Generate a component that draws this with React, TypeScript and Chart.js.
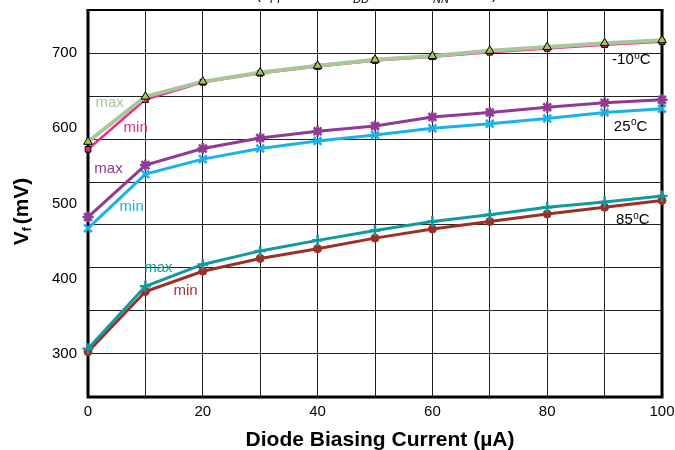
import React, { useEffect, useRef } from 'react';
import { Chart, registerables } from 'chart.js';

Chart.register(...registerables);

const FONT = "'Liberation Sans', Arial, Helvetica, sans-serif";

// Diode biasing current (µA)
const currents = [0, 10, 20, 30, 40, 50, 60, 70, 80, 90, 100];

// Forward voltage Vf (mV)
const coldMax = [582, 642, 662, 674, 683, 691, 696, 703, 708, 713, 717];
const coldMin = [572, 638, 661, 673, 682, 690, 695, 701, 706, 711, 715];
const roomMax = [482, 551, 573, 587, 596, 603, 615, 621, 628, 634, 638];
const roomMin = [467, 539, 559, 573, 583, 591, 600, 606, 613, 621, 626];
const hotMax = [307, 390, 419, 437, 451, 464, 476, 485, 495, 502, 510];
const hotMin = [303, 383, 410, 427, 440, 454, 466, 476, 486, 495, 504];

// Axes
const xTickLabels = [0, 20, 40, 60, 80, 100];
const yMin = 242.857;
const yMax = 757.143;
const yGridValues = [242.857, 300, 357.143, 414.286, 471.429, 528.571, 585.714, 642.857, 700, 757.143];
const yTickLabels = [300, 400, 500, 600, 700];

// In-plot annotations (data coordinates)
const seriesNotes = [
  { text: 'max', x: 1.3, y: 634, color: '#a8c59c' },
  { text: 'min', x: 6.2, y: 601, color: '#ec2d85' },
  { text: 'max', x: 1.1, y: 546, color: '#913a94' },
  { text: 'min', x: 5.5, y: 495, color: '#19b2ec' },
  { text: 'max', x: 9.8, y: 415, color: '#119a9d' },
  { text: 'min', x: 14.9, y: 384, color: '#9c3028' },
];
const tempNotes = [
  { value: '-10', x: 91.3, y: 691 },
  { value: '25', x: 91.6, y: 602.5 },
  { value: '85', x: 92.0, y: 478 },
];

const near = (a: number, b: number) => Math.abs(a - b) < 0.01;

const decorPlugin = {
  id: 'decor',
  beforeDatasetsDraw(chart: any) {
    const { ctx, chartArea: a } = chart;
    ctx.save();
    ctx.strokeStyle = '#000';
    ctx.lineWidth = 3;
    ctx.beginPath();
    ctx.moveTo(a.left, a.top);
    ctx.lineTo(a.left, a.bottom);
    ctx.lineTo(a.right, a.bottom);
    ctx.lineTo(a.right, a.top);
    ctx.stroke();
    ctx.lineWidth = 2.2;
    ctx.beginPath();
    ctx.moveTo(a.left - 1.5, a.top);
    ctx.lineTo(a.right + 1.5, a.top);
    ctx.stroke();
    ctx.restore();
  },
  afterDatasetsDraw(chart: any) {
    const { ctx, scales } = chart;
    const xs = scales.x;
    const ys = scales.y;
    ctx.save();
    ctx.textBaseline = 'middle';
    ctx.textAlign = 'left';
    ctx.font = `15px ${FONT}`;
    for (const n of seriesNotes) {
      ctx.fillStyle = n.color;
      ctx.fillText(n.text, xs.getPixelForValue(n.x), ys.getPixelForValue(n.y));
    }
    ctx.fillStyle = '#000';
    for (const t of tempNotes) {
      const px = xs.getPixelForValue(t.x);
      const py = ys.getPixelForValue(t.y);
      ctx.font = `15px ${FONT}`;
      ctx.fillText(t.value, px, py);
      const w = ctx.measureText(t.value).width;
      ctx.font = `10px ${FONT}`;
      ctx.fillText('o', px + w + 0.5, py - 4);
      const w2 = ctx.measureText('o').width;
      ctx.font = `15px ${FONT}`;
      ctx.fillText('C', px + w + w2 + 0.5, py);
    }
    ctx.restore();
  },
  afterDraw(chart: any) {
    const { ctx, chartArea: a } = chart;
    ctx.save();
    // Y axis title: V_f (mV)
    ctx.translate(22, (a.top + a.bottom) / 2 + 8);
    ctx.rotate(-Math.PI / 2);
    ctx.fillStyle = '#000';
    ctx.textBaseline = 'middle';
    ctx.textAlign = 'left';
    ctx.font = `bold 21px ${FONT}`;
    const parts = ['V', 'f', '(mV)'];
    const wV = ctx.measureText(parts[0]).width;
    ctx.font = `bold 12px ${FONT}`;
    const wf = ctx.measureText(parts[1]).width;
    ctx.font = `bold 21px ${FONT}`;
    const wm = ctx.measureText(parts[2]).width;
    const total = wV + wf + 3 + wm;
    let cx = -total / 2;
    ctx.fillText(parts[0], cx, 0);
    cx += wV;
    ctx.font = `bold 12px ${FONT}`;
    ctx.fillText(parts[1], cx, 6);
    cx += wf + 3;
    ctx.font = `bold 21px ${FONT}`;
    ctx.fillText(parts[2], cx, 0);
    ctx.restore();

    // X axis title
    ctx.save();
    ctx.fillStyle = '#000';
    ctx.font = `bold 21px ${FONT}`;
    ctx.textAlign = 'center';
    ctx.textBaseline = 'middle';
    ctx.fillText('Diode Biasing Current (µA)', (a.left + a.right) / 2 + 5, 440);
    ctx.restore();

    // Clipped header line (only subscripts visible)
    ctx.save();
    ctx.fillStyle = '#000';
    ctx.textBaseline = 'alphabetic';
    ctx.textAlign = 'left';
    ctx.font = `italic 11px ${FONT}`;
    ctx.fillText('PP', 270, 3);
    ctx.fillText('DD', 353, 3);
    ctx.fillText('NN', 433, 3);
    ctx.font = `15px ${FONT}`;
    ctx.fillText('(', 256, -1);
    ctx.fillText(')', 492, -1);
    ctx.restore();
  },
};

const pts = (vals: number[]) => currents.map((c, i) => ({ x: c, y: vals[i] }));

export default function App() {
  const ref = useRef<HTMLCanvasElement>(null);
  useEffect(() => {
    document.body.style.margin = '0';
    const chart = new Chart(ref.current as HTMLCanvasElement, {
      type: 'line',
      data: {
        datasets: [
          {
            label: '-10°C max', data: pts(coldMax), borderColor: '#a8c59c', borderWidth: 4,
            pointStyle: 'triangle', pointRadius: 5, pointBackgroundColor: '#a9c551',
            pointBorderColor: '#000', pointBorderWidth: 1, order: 1, clip: false as any,
          },
          {
            label: '-10°C min', data: pts(coldMin), borderColor: '#ec2d85', borderWidth: 2.5,
            pointStyle: 'rect', pointRadius: 4, pointBackgroundColor: '#e3237f',
            pointBorderColor: '#000', pointBorderWidth: 1, order: 2, clip: false as any,
          },
          {
            label: '25°C max', data: pts(roomMax), borderColor: '#913a94', borderWidth: 3,
            pointStyle: 'star', pointRadius: 5.5, pointBorderColor: '#913a94',
            pointBackgroundColor: '#913a94', pointBorderWidth: 2.5, order: 3, clip: false as any,
          },
          {
            label: '25°C min', data: pts(roomMin), borderColor: '#19b2ec', borderWidth: 3,
            pointStyle: 'crossRot', pointRadius: 5.5, pointBorderColor: '#19b2ec',
            pointBorderWidth: 2.5, order: 4, clip: false as any,
          },
          {
            label: '85°C max', data: pts(hotMax), borderColor: '#119a9d', borderWidth: 3,
            pointStyle: 'cross', pointRadius: 5.5, pointBorderColor: '#119a9d',
            pointBorderWidth: 2.5, order: 5, clip: false as any,
          },
          {
            label: '85°C min', data: pts(hotMin), borderColor: '#9c3028', borderWidth: 3,
            pointStyle: 'circle', pointRadius: 4, pointBackgroundColor: '#9c3028',
            pointBorderColor: '#9c3028', pointBorderWidth: 1, order: 6, clip: false as any,
          },
        ],
      },
      options: {
        responsive: false,
        animation: false,
        layout: { padding: { top: 10, right: 13, left: 0, bottom: 0 } },
        plugins: { legend: { display: false }, tooltip: { enabled: false }, title: { display: false } },
        elements: { line: { tension: 0 } },
        scales: {
          x: {
            type: 'linear', min: 0, max: 100,
            afterFit: (s: any) => { s.height = 53; s.paddingLeft = 0; s.paddingRight = 0; },
            ticks: {
              stepSize: 10, autoSkip: false, maxRotation: 0, padding: 6, color: '#000',
              font: { family: FONT, size: 15 },
              callback: (v: any) => (xTickLabels.includes(Number(v)) ? String(v) : ''),
            },
            grid: { color: '#222', lineWidth: 1, drawTicks: false },
            border: { display: false },
          },
          y: {
            type: 'linear', min: yMin, max: yMax,
            afterFit: (s: any) => { s.width = 88; s.paddingTop = 0; s.paddingBottom = 0; },
            afterBuildTicks: (s: any) => {
              const vals = [...yGridValues, ...yTickLabels.filter((v) => !yGridValues.some((g) => near(g, v)))];
              vals.sort((p, q) => p - q);
              s.ticks = vals.map((v) => ({ value: v }));
            },
            ticks: {
              padding: 11, color: '#000', autoSkip: false,
              font: { family: FONT, size: 15 },
              callback: (v: any) => {
                const n = Number(v);
                const hit = yTickLabels.find((t) => near(t, n));
                return hit !== undefined ? String(hit) : '';
              },
            },
            grid: {
              drawTicks: false, lineWidth: 1,
              color: (c: any) => {
                const v = c.tick ? c.tick.value : NaN;
                return yGridValues.some((g) => near(g, v)) ? '#222' : 'rgba(0,0,0,0)';
              },
            },
            border: { display: false },
          },
        },
      },
      plugins: [decorPlugin],
    });
    return () => chart.destroy();
  }, []);
  return (
    <div style={{ width: 675, height: 450 }}>
      <canvas ref={ref} width={675} height={450} style={{ display: 'block' }} />
    </div>
  );
}
